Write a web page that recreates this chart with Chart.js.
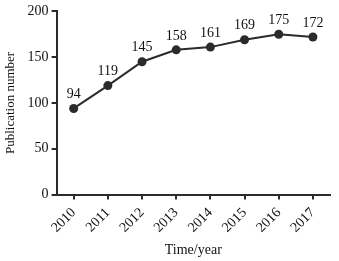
<!DOCTYPE html>
<html>
<head>
<meta charset="utf-8">
<script src="https://cdn.jsdelivr.net/npm/chart.js"></script>
<style>
  html, body { margin: 0; padding: 0; background: #fff; }
  #wrap { width: 339px; height: 261px; }
</style>
</head>
<body>
<div id="wrap"><canvas id="grafico" width="339" height="261"></canvas></div>
<script>
// Dados
const anos = ['2010', '2011', '2012', '2013', '2014', '2015', '2016', '2017'];
const publicacoes = [94, 119, 145, 158, 161, 169, 175, 172];
const ticksY = [0, 50, 100, 150, 200];

const fonte = '"Liberation Serif", "Times New Roman", serif';
const corEixo = '#2b2b2b';

// Rótulos de valor acima de cada ponto
const rotulos = {
    id: 'rotulos',
    afterDatasetsDraw(chart) {
        const ctx = chart.ctx;
        const meta = chart.getDatasetMeta(0);
        ctx.save();
        ctx.font = '14px ' + fonte;
        ctx.fillStyle = '#111';
        ctx.textAlign = 'center';
        ctx.textBaseline = 'bottom';
        meta.data.forEach((p, i) => {
            ctx.fillText(String(publicacoes[i]), p.x, p.y - 7);
        });
        ctx.restore();
    }
};

const ctx = document.getElementById('grafico').getContext('2d');
const grafico = new Chart(ctx, {
    type: 'line',
    data: {
        labels: anos,
        datasets: [{
            data: publicacoes,
            borderColor: '#2b2b2b',
            borderWidth: 2,
            backgroundColor: '#2b2b2b',
            pointRadius: 4.5,
            pointBackgroundColor: '#2b2b2b',
            pointBorderWidth: 0,
            tension: 0
        }]
    },
    options: {
        responsive: false,
        animation: false,
        layout: { padding: { top: 9, right: 9, left: 3, bottom: 2 } },
        plugins: {
            legend: { display: false },
            tooltip: { enabled: false }
        },
        scales: {
            x: {
                offset: true,
                grid: { display: true, drawOnChartArea: false, tickLength: 5, color: corEixo, lineWidth: 2 },
                border: { display: true, color: corEixo, width: 2 },
                ticks: {
                    color: '#111',
                    font: { family: fonte, size: 14 },
                    maxRotation: 45,
                    minRotation: 45,
                    padding: 5
                },
                title: {
                    display: true,
                    text: 'Time/year',
                    color: '#111',
                    font: { family: fonte, size: 14 },
                    padding: { top: 1, bottom: 0 }
                }
            },
            y: {
                min: 0,
                max: 200,
                afterBuildTicks: axis => { axis.ticks = ticksY.map(v => ({ value: v })); },
                grid: { display: true, drawOnChartArea: false, tickLength: 5, color: corEixo, lineWidth: 2 },
                border: { display: true, color: corEixo, width: 2 },
                ticks: {
                    color: '#111',
                    font: { family: fonte, size: 14 },
                    padding: 3
                },
                title: {
                    display: true,
                    text: 'Publication number',
                    color: '#111',
                    font: { family: fonte, size: 13 },
                    padding: { top: 0, bottom: 6 }
                }
            }
        }
    },
    plugins: [rotulos]
});
</script>
</body>
</html>
